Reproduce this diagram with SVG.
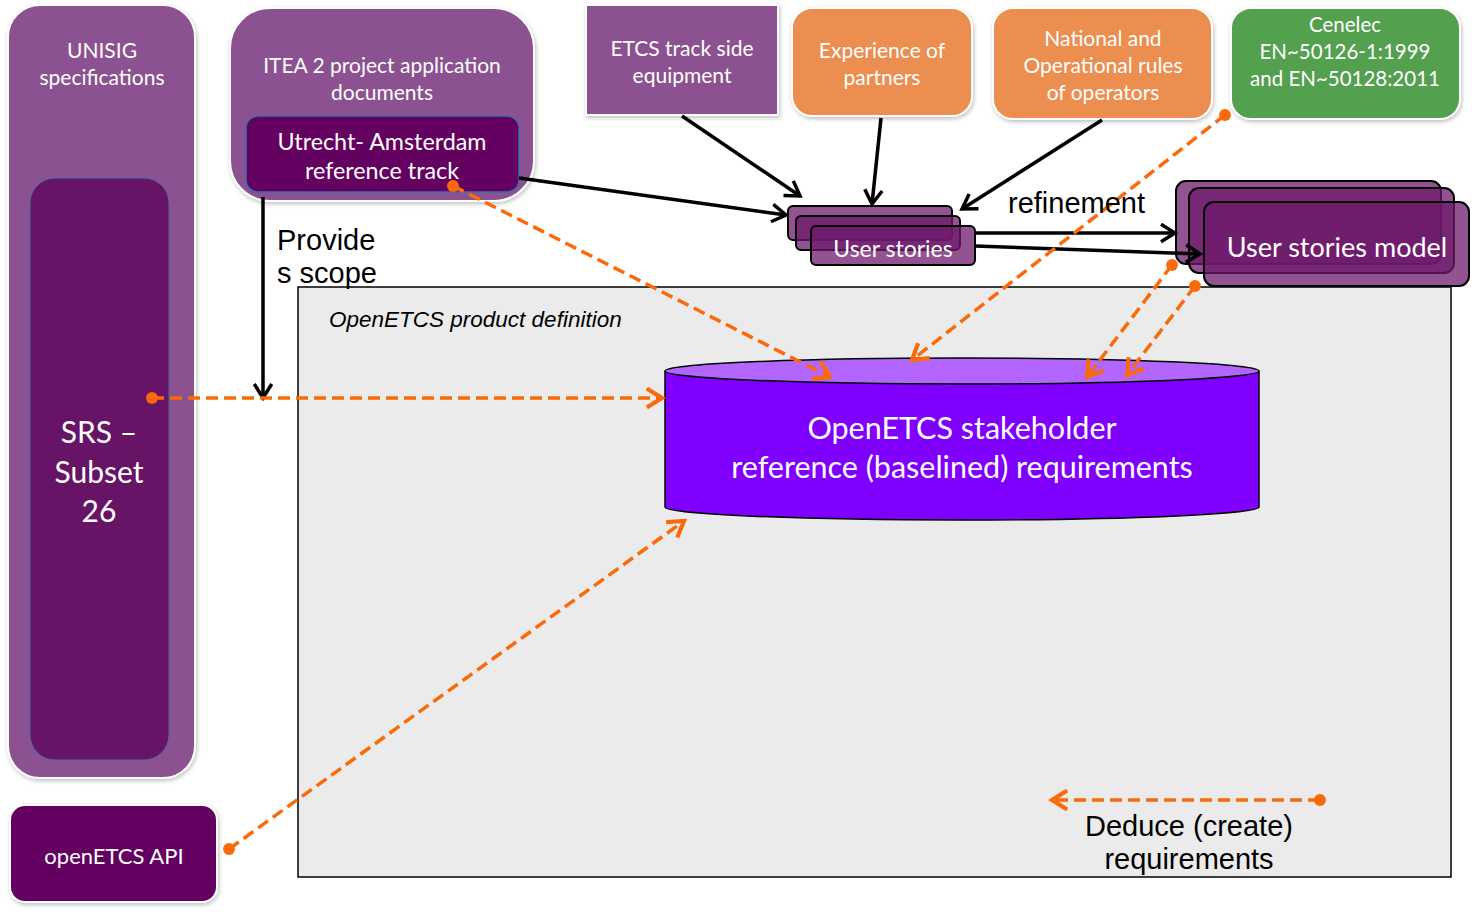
<svg xmlns="http://www.w3.org/2000/svg" width="1477" height="915" viewBox="0 0 1477 915">
<style>
.t{font-family:Lato,"Open Sans",sans-serif;fill:#fff;text-anchor:middle}
.a{font-family:"Liberation Sans",Arial,sans-serif;fill:#000}
.node{stroke:#fff;stroke-width:2;filter:url(#sh)}
.blk{stroke:#000;stroke-width:3.5;fill:none;marker-end:url(#ab)}
.or{stroke:#fa6a0a;stroke-width:3.5;fill:none;stroke-dasharray:12 6;marker-start:url(#dot);marker-end:url(#ao)}
.us{fill:#6e1a6c;fill-opacity:0.75;stroke:#000;stroke-width:2}
</style>
<defs>
<filter id="sh" x="-10%" y="-10%" width="130%" height="130%">
<feDropShadow dx="1" dy="2" stdDeviation="2" flood-color="#000" flood-opacity="0.25"/>
</filter>
<marker id="ab" viewBox="0 0 12 12" refX="10" refY="6" markerWidth="6" markerHeight="6" markerUnits="strokeWidth" orient="auto">
<polyline points="2,1 10,6 2,11" fill="none" stroke="#000" stroke-width="2"/>
</marker>
<marker id="ao" viewBox="0 0 12 12" refX="10" refY="6" markerWidth="6.5" markerHeight="6.5" markerUnits="strokeWidth" orient="auto">
<polyline points="2,1 10,6 2,11" fill="none" stroke="#fa6a0a" stroke-width="2.2"/>
</marker>
<marker id="dot" viewBox="0 0 10 10" refX="5" refY="5" markerWidth="3.4" markerHeight="3.4" markerUnits="strokeWidth">
<circle cx="5" cy="5" r="5" fill="#fa6a0a"/>
</marker>
</defs>
<rect width="1477" height="915" fill="#fff"/>

<g id="product-definition">
<rect x="298" y="287" width="1153" height="590" fill="#ebebeb" stroke="#000" stroke-width="1.5"/>
<text class="a" x="329" y="327" font-size="22.5" font-style="italic">OpenETCS product definition</text>
</g>

<g id="unisig">
<rect class="node" x="8" y="5" width="187" height="773" rx="32" fill="#8c5190"/>
<text class="t" x="102" y="58" font-size="21">UNISIG</text>
<text class="t" x="102" y="85" font-size="21">specifications</text>
</g>
<g id="srs">
<rect x="30" y="178" width="139" height="582" rx="25" fill="#681466" stroke="#4a6da0" stroke-width="1"/>
<text class="t" x="99" y="443" font-size="30">SRS –</text>
<text class="t" x="99" y="483" font-size="30">Subset</text>
<text class="t" x="99" y="522" font-size="30">26</text>
</g>

<g id="itea">
<rect class="node" x="230" y="8" width="304" height="193" rx="40" fill="#8c5190"/>
<text class="t" x="382" y="73" font-size="21">ITEA 2 project application</text>
<text class="t" x="382" y="100" font-size="21">documents</text>
</g>
<g id="utrecht">
<rect x="246" y="116" width="273" height="76" rx="12" fill="#640060" stroke="#3a6fb0" stroke-width="1.5"/>
<text class="t" x="382" y="150" font-size="23.3">Utrecht- Amsterdam</text>
<text class="t" x="382" y="179" font-size="23.3">reference track</text>
</g>

<g id="etcs-trackside">
<rect class="node" x="586" y="5" width="192" height="110" fill="#8c5190"/>
<text class="t" x="682" y="56" font-size="21">ETCS track side</text>
<text class="t" x="682" y="83" font-size="21">equipment</text>
</g>
<g id="experience">
<rect class="node" x="792" y="8" width="180" height="108" rx="20" fill="#eb8e50"/>
<text class="t" x="882" y="58" font-size="21">Experience of</text>
<text class="t" x="882" y="85" font-size="21">partners</text>
</g>
<g id="national">
<rect class="node" x="993" y="8" width="219" height="111" rx="20" fill="#eb8e50"/>
<text class="t" x="1103" y="46" font-size="21">National and</text>
<text class="t" x="1103" y="73" font-size="21">Operational rules</text>
<text class="t" x="1103" y="100" font-size="21">of operators</text>
</g>
<g id="cenelec">
<rect class="node" x="1231" y="8" width="229" height="111" rx="20" fill="#53a04f"/>
<text class="t" x="1345" y="32" font-size="20.5">Cenelec</text>
<text class="t" x="1345" y="59" font-size="20.5">EN~50126-1:1999</text>
<text class="t" x="1345" y="86" font-size="20.5">and EN~50128:2011</text>
</g>

<g id="user-stories">
<rect class="us" x="788" y="206" width="164" height="34" rx="5"/>
<rect class="us" x="796" y="216" width="164" height="34" rx="5"/>
<rect class="us" x="811" y="226" width="164" height="39" rx="5"/>
<text class="t" x="893" y="257" font-size="23">User stories</text>
</g>

<g id="user-stories-model">
<rect class="us" x="1176" y="181" width="265" height="83" rx="10"/>
<rect class="us" x="1189" y="188" width="265" height="85" rx="10"/>
<rect class="us" x="1204" y="202" width="265" height="84" rx="10"/>
<text class="t" x="1337" y="257" font-size="27">User stories model</text>
</g>

<g id="stakeholder-requirements">
<path d="M665,371 L665,507 A297,13 0 0 0 1259,507 L1259,371" fill="#7f00ff" stroke="#000" stroke-width="1.5"/>
<ellipse cx="962" cy="371" rx="297" ry="13" fill="#b366ff" stroke="#000" stroke-width="1.5"/>
<text class="t" x="962" y="439" font-size="30.5">OpenETCS stakeholder</text>
<text class="t" x="962" y="478" font-size="30.5">reference (baselined) requirements</text>
</g>

<g id="openetcs-api">
<rect class="node" x="10" y="805" width="207" height="97" rx="15" fill="#640060" stroke="#3a6fb0"/>
<text class="t" x="114" y="864" font-size="22">openETCS API</text>
</g>

<g id="connectors">
<line class="blk" x1="682" y1="116" x2="800" y2="196"/>
<line class="blk" x1="881" y1="118" x2="872" y2="204"/>
<line class="blk" x1="1102" y1="120" x2="962" y2="209"/>
<line class="blk" x1="519" y1="178" x2="786" y2="215"/>
<line class="blk" x1="263" y1="197" x2="263" y2="398"/>
<line class="blk" x1="975" y1="233" x2="1175" y2="233"/>
<line class="blk" x1="975" y1="246" x2="1200" y2="254"/>
<line class="or" x1="453" y1="186" x2="830" y2="377"/>
<line class="or" x1="152" y1="398" x2="662" y2="398"/>
<line class="or" x1="1225" y1="115" x2="912" y2="360"/>
<line class="or" x1="1172" y1="265" x2="1087" y2="377"/>
<line class="or" x1="1195" y1="286" x2="1127" y2="375"/>
<line class="or" x1="229" y1="849" x2="684" y2="521"/>
<line class="or" x1="1320" y1="800" x2="1052" y2="800"/>
<text class="a" x="277" y="250" font-size="29">Provide</text>
<text class="a" x="277" y="283" font-size="29">s scope</text>
<text class="a" x="1008" y="213" font-size="29">refinement</text>
<text class="a" x="1189" y="836" font-size="29" text-anchor="middle">Deduce (create)</text>
<text class="a" x="1189" y="869" font-size="29" text-anchor="middle">requirements</text>
</g>
</svg>
